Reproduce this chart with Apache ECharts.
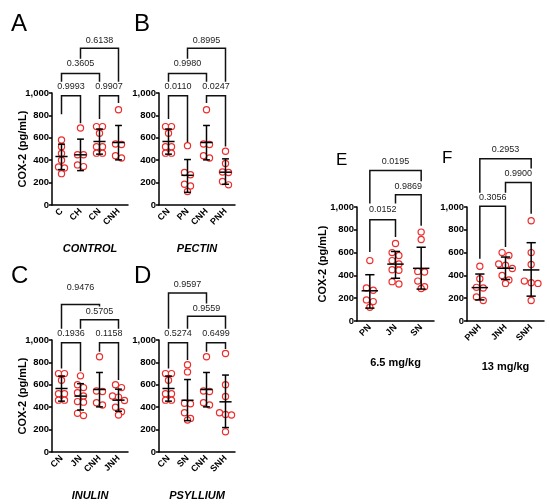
<!DOCTYPE html>
<html>
<head>
<meta charset="utf-8">
<script src="https://cdn.jsdelivr.net/npm/echarts@6/dist/echarts.min.js"></script>
<style>
  html, body { margin: 0; padding: 0; background: #fff; }
  #chart { width: 550px; height: 504px; }
</style>
</head>
<body>
<div id="chart"></div>
<script>
// individual animals, COX-2 pg/mL
const ptsC = [580, 520, 460, 400, 340, 330, 280];
const ptsCH = [687, 448, 448, 358, 343];
const ptsCN = [700, 700, 640, 520, 520, 463, 463];
const ptsCNH = [850, 545, 540, 440, 420];
const ptsPN = [530, 290, 270, 185, 170, 120];
const ptsPNH = [480, 370, 295, 290, 210, 180];
const ptsJN = [680, 600, 575, 530, 500, 450, 445, 345, 325];
const ptsJNH = [600, 575, 500, 490, 460, 400, 360, 330];
const ptsSN = [780, 715, 435, 430, 350, 300, 285];
const ptsSNH = [880, 600, 495, 350, 335, 330, 180];

// mean and SD bounds per group
const groupNames = ['C', 'CH', 'CN', 'CNH', 'PN', 'PNH', 'JN', 'JNH', 'SN', 'SNH'];
const means  = [433, 448, 567, 558, 265, 293, 499, 463, 462, 448];
const sdLow  = [316, 307, 454, 403, 113, 185, 375, 364, 280, 218];
const sdHigh = [543, 588, 678, 710, 406, 412, 610, 561, 647, 687];

// panels
const catsA = ['C', 'CH', 'CN', 'CNH'];
const catsB = ['CN', 'PN', 'CNH', 'PNH'];
const catsC = ['CN', 'JN', 'CNH', 'JNH'];
const catsD = ['CN', 'SN', 'CNH', 'SNH'];
const catsE = ['PN', 'JN', 'SN'];
const catsF = ['PNH', 'JNH', 'SNH'];
const panelLetters = ['A', 'B', 'C', 'D', 'E', 'F'];
const panelNames = ['CONTROL', 'PECTIN', 'INULIN', 'PSYLLIUM', '6.5 mg/kg', '13 mg/kg'];

// brackets: [from, to, top, left leg end, right leg end, label height]
const bracketsA = [[0, 1, 975, 810, 730, 1060], [2, 3, 975, 767, 910, 1060], [0, 2, 1175, 1100, 1100, 1262], [1, 3, 1400, 1305, 1100, 1470]];
const pvalsA = ['0.9993', '0.9907', '0.3605', '0.6138'];
const bracketsB = [[0, 1, 975, 767, 561, 1060], [2, 3, 975, 910, 522, 1060], [0, 2, 1175, 1100, 1100, 1262], [1, 3, 1400, 1305, 1100, 1470]];
const pvalsB = ['0.0110', '0.0247', '0.9980', '0.8995'];
const bracketsC = [[0, 1, 975, 746, 722, 1060], [2, 3, 975, 895, 642, 1060], [1, 3, 1180, 1100, 1100, 1257], [0, 2, 1318, 1100, 1300, 1465]];
const pvalsC = ['0.1936', '0.1158', '0.5705', '0.9476'];
const bracketsD = [[0, 1, 975, 746, 821, 1060], [2, 3, 975, 895, 920, 1060], [1, 3, 1213, 1100, 1100, 1282], [0, 2, 1420, 1100, 1327, 1495]];
const pvalsD = ['0.5274', '0.6499', '0.9559', '0.9597'];
const bracketsE = [[0, 1, 889, 605, 737, 977], [1, 2, 1108, 1030, 835, 1181], [0, 2, 1321, 1030, 1226, 1400]];
const pvalsE = ['0.0152', '0.9869', '0.0195'];
const bracketsF = [[0, 1, 1006, 547, 649, 1079], [1, 2, 1214, 1125, 940, 1293], [0, 2, 1424, 1125, 1338, 1503]];
const pvalsF = ['0.3056', '0.9900', '0.2953'];

const pointsByGroup = {
  C: ptsC, CH: ptsCH, CN: ptsCN, CNH: ptsCNH, PN: ptsPN,
  PNH: ptsPNH, JN: ptsJN, JNH: ptsJNH, SN: ptsSN, SNH: ptsSNH
};
const panelCats = [catsA, catsB, catsC, catsD, catsE, catsF];
const panelBrackets = [bracketsA, bracketsB, bracketsC, bracketsD, bracketsE, bracketsF];
const panelPvals = [pvalsA, pvalsB, pvalsC, pvalsD, pvalsE, pvalsF];

const FONT = 'Liberation Sans, Arial, Helvetica, sans-serif';
const RED = '#ee2d2d';

const grids = [
  { left: 52, top: 93, width: 76, height: 112 },
  { left: 159, top: 93, width: 76, height: 112 },
  { left: 52, top: 340, width: 76, height: 112 },
  { left: 159, top: 340, width: 76, height: 112 },
  { left: 357, top: 207, width: 77, height: 114 },
  { left: 467, top: 207, width: 77, height: 114 }
];
const nameGapsX = [38, 38, 38, 38, 36, 40];
const nameGapsY = [24, 0, 24, 0, 29, 0];

// spread points sitting at nearly the same height side by side (Prism-like)
function spread(vals, pxPerUnit, step) {
  const order = vals.map((v, i) => [v, i]).sort((a, b) => b[0] - a[0]);
  const off = new Array(vals.length).fill(0);
  let k = 0;
  while (k < order.length) {
    const row = [order[k]];
    let j = k + 1;
    while (j < order.length && (order[k][0] - order[j][0]) * pxPerUnit < 6) {
      row.push(order[j]);
      j++;
    }
    row.forEach((p, n) => { off[p[1]] = (n - (row.length - 1) / 2) * step; });
    k = j;
  }
  return off;
}

function renderErr(params, api) {
  const x = api.value(0);
  const c = api.coord([x, api.value(1)]);
  const lo = api.coord([x, api.value(2)]);
  const hi = api.coord([x, api.value(3)]);
  const band = api.size([1, 0])[0];
  const mw = band * 0.32, cw = band * 0.18;
  const st = { stroke: '#000', lineWidth: 1.5 };
  return {
    type: 'group',
    children: [
      { type: 'line', shape: { x1: c[0], y1: hi[1], x2: c[0], y2: lo[1] }, style: st },
      { type: 'line', shape: { x1: c[0] - mw, y1: c[1], x2: c[0] + mw, y2: c[1] }, style: st },
      { type: 'line', shape: { x1: c[0] - cw, y1: hi[1], x2: c[0] + cw, y2: hi[1] }, style: st },
      { type: 'line', shape: { x1: c[0] - cw, y1: lo[1], x2: c[0] + cw, y2: lo[1] }, style: st }
    ]
  };
}

function bracketRenderer(labels) {
  return function (params, api) {
    const a = api.coord([api.value(0), api.value(2)]);
    const b = api.coord([api.value(1), api.value(2)]);
    const l = api.coord([api.value(0), api.value(3)]);
    const r = api.coord([api.value(1), api.value(4)]);
    const t = api.coord([api.value(0), api.value(5)]);
    return {
      type: 'group',
      children: [
        {
          type: 'polyline',
          shape: { points: [[l[0], l[1]], [a[0], a[1]], [b[0], b[1]], [r[0], r[1]]] },
          style: { stroke: '#111', lineWidth: 1.5, fill: 'none' }
        },
        {
          type: 'text',
          x: (a[0] + b[0]) / 2,
          y: t[1],
          style: {
            text: labels[params.dataIndex],
            font: '9px ' + FONT,
            fill: '#222',
            align: 'center', verticalAlign: 'middle',
            textAlign: 'center', textVerticalAlign: 'middle'
          }
        }
      ]
    };
  };
}

const xAxes = [], yAxes = [], series = [], graphics = [];

panelCats.forEach((cats, i) => {
  const g = grids[i];
  xAxes.push({
    gridIndex: i,
    type: 'category',
    data: cats,
    axisLine: { lineStyle: { color: '#000', width: 1.5 } },
    axisTick: { alignWithLabel: true, length: 3, lineStyle: { color: '#000', width: 1.5 } },
    axisLabel: { rotate: 45, interval: 0, color: '#000', fontWeight: 'bold', fontSize: 9, margin: 5, fontFamily: FONT },
    splitLine: { show: false },
    name: panelNames[i],
    nameLocation: 'middle',
    nameGap: nameGapsX[i],
    nameMoveOverlap: false,
    nameTextStyle: {
      color: '#000', fontWeight: 'bold', fontSize: 11, fontFamily: FONT,
      fontStyle: i < 4 ? 'italic' : 'normal'
    }
  });
  yAxes.push({
    gridIndex: i,
    type: 'value',
    min: 0,
    max: 1000,
    interval: 200,
    axisLine: { show: true, lineStyle: { color: '#000', width: 1.5 } },
    axisTick: { show: true, length: 3, lineStyle: { color: '#000', width: 1.5 } },
    axisLabel: { color: '#000', fontWeight: 'bold', fontSize: 9.5, margin: 3, fontFamily: FONT },
    splitLine: { show: false },
    name: nameGapsY[i] ? 'COX-2 (pg/mL)' : '',
    nameLocation: 'middle',
    nameGap: nameGapsY[i],
    nameMoveOverlap: false,
    nameTextStyle: { color: '#000', fontWeight: 'bold', fontSize: 11, fontFamily: FONT }
  });

  const pxPerUnit = g.height / 1000;
  const step = i < 4 ? 6 : 6.8;
  const pts = [];
  cats.forEach((name, ci) => {
    const vals = pointsByGroup[name];
    const off = spread(vals, pxPerUnit, step);
    vals.forEach((v, k) => pts.push({ value: [ci, v], symbolOffset: [off[k], 0] }));
  });
  series.push({
    type: 'scatter',
    xAxisIndex: i,
    yAxisIndex: i,
    data: pts,
    symbol: 'circle',
    symbolSize: 6.2,
    itemStyle: { color: '#fff', borderColor: RED, borderWidth: 1.2, opacity: 1 },
    silent: true,
    z: 2
  });

  series.push({
    type: 'custom',
    xAxisIndex: i,
    yAxisIndex: i,
    renderItem: renderErr,
    data: cats.map((name, ci) => {
      const gi = groupNames.indexOf(name);
      return [ci, means[gi], sdLow[gi], sdHigh[gi]];
    }),
    encode: { x: 0, y: 1 },
    z: 3,
    silent: true
  });

  series.push({
    type: 'custom',
    xAxisIndex: i,
    yAxisIndex: i,
    renderItem: bracketRenderer(panelPvals[i]),
    data: panelBrackets[i],
    encode: { x: 0, y: 2 },
    clip: false,
    z: 3,
    silent: true
  });
});

const letterPos = [
  { left: 11, top: 12, size: 24 },
  { left: 134, top: 12, size: 24 },
  { left: 11, top: 264, size: 24 },
  { left: 134, top: 264, size: 24 },
  { left: 336, top: 152, size: 17 },
  { left: 442, top: 150, size: 17 }
];
panelLetters.forEach((t, i) => {
  graphics.push({
    type: 'text',
    left: letterPos[i].left,
    top: letterPos[i].top,
    style: { text: t, font: letterPos[i].size + 'px ' + FONT, fill: '#000' }
  });
});

const chart = echarts.init(document.getElementById('chart'), null, { renderer: 'canvas' });
chart.setOption({
  animation: false,
  backgroundColor: '#fff',
  textStyle: { fontFamily: FONT },
  grid: grids.map(g => Object.assign({ containLabel: false, outerBoundsMode: 'none' }, g)),
  xAxis: xAxes,
  yAxis: yAxes,
  series: series,
  graphic: graphics
});
</script>
</body>
</html>
